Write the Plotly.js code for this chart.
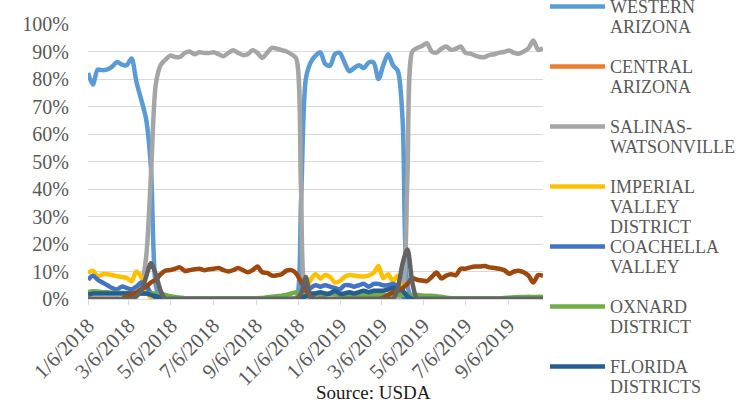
<!DOCTYPE html>
<html>
<head>
<meta charset="utf-8">
<script src="https://cdn.plot.ly/plotly-3.0.1.min.js"></script>
<style>html,body{margin:0;padding:0;background:#fff;}#chart{width:754px;height:402px;}</style>
</head>
<body>
<div id="chart"></div>
<script>
// Weekly shipping dates (categories)
const weeks = [
 '2018-01-06','2018-01-13','2018-01-20','2018-01-27','2018-02-03','2018-02-10','2018-02-17','2018-02-24',
 '2018-03-03','2018-03-10','2018-03-17','2018-03-24','2018-03-31','2018-04-07','2018-04-14','2018-04-21','2018-04-28',
 '2018-05-05','2018-05-12','2018-05-19','2018-05-26','2018-06-02','2018-06-09','2018-06-16','2018-06-23','2018-06-30',
 '2018-07-07','2018-07-14','2018-07-21','2018-07-28','2018-08-04','2018-08-11','2018-08-18','2018-08-25',
 '2018-09-01','2018-09-08','2018-09-15','2018-09-22','2018-09-29','2018-10-06','2018-10-13','2018-10-20','2018-10-27',
 '2018-11-03','2018-11-10','2018-11-17','2018-11-24','2018-12-01','2018-12-08','2018-12-15','2018-12-22','2018-12-29',
 '2019-01-05','2019-01-12','2019-01-19','2019-01-26','2019-02-02','2019-02-09','2019-02-16','2019-02-23',
 '2019-03-02','2019-03-09','2019-03-16','2019-03-23','2019-03-30','2019-04-06','2019-04-13','2019-04-20','2019-04-27',
 '2019-05-04','2019-05-11','2019-05-18','2019-05-25','2019-06-01','2019-06-08','2019-06-15','2019-06-22','2019-06-29',
 '2019-07-06','2019-07-13','2019-07-20','2019-07-27','2019-08-03','2019-08-10','2019-08-17','2019-08-24','2019-08-31',
 '2019-09-07','2019-09-14','2019-09-21','2019-09-28','2019-10-05','2019-10-12','2019-10-19','2019-10-26'
];

// Shares (%) by region
const westernArizona = [82.2,78,83.4,83.2,83.5,84.5,86.2,85.2,85,87.5,79,72.5,65.5,48,5,
 0,0,0,0,0,0,0,0,0,0,0,0,0,0,0,0,0,0,0,0,0,0,0,0,0,0,0,0,0,
 35,80,86,88.5,89.7,85.5,84.8,89,89.5,86,82.8,84,85,84,86,86,80,85,89,85,83,65,5,
 0,0,0,0,0,0,0,0,0,0,0,0,0,0,0,0,0,0,0,0,0,0,0,0,0,0,0,0];
const centralArizona = [0,0,0,0,0,0,0,0,0,0.5,1.5,2.5,2.5,1.5,0.5,
 0,0,0,0,0,0,0,0,0,0,0,0,0,0,0,0,0,0,0,0,0,0,0,0,0,0,0,0,
 0.5,1,0.5,
 0,0,0,0,0,0,0,0,0,0,0,0,0,0,0,0,
 0.5,1,1.5,1,0.5,
 0,0,0,0,0,0,0,0,0,0,0,0,0,0,0,0,0,0,0,0,0,0,0,0,0,0,0,0];
const salinasWatsonville = [0,0,0,0,0,0,0,0,0,0,1,5,15,45,78,85,87,88.5,88,88,89.5,90,89,89.7,89.5,89.5,
 89.7,89,88.3,89.5,90.5,89.5,88.7,89,90.5,89.5,87.7,89.5,91.3,91,90.5,90,89,87.5,40,1,
 0,0,0,0,0,0,0,0,0,0,0,0,0,0,0,0,0,0,0,
 3,45,90,91.3,92,93,90,89.6,91,91.8,90.6,91,91.8,89.5,89.2,88.5,88,88,88.8,89,89.6,89.8,90.4,89.5,89.2,90,91.2,94,90.6,91.2];
const imperialValley = [9.5,10.3,8.2,9,9,8.7,8.3,8,7.7,6.5,10,8,3,0.5,
 0,0,0,0,0,0,0,0,0,0,0,0,0,0,0,0,0,0,0,0,0,0,0,0,0,0,0,0,0,0,0,
 3,7,9,7.5,8.7,8,6,6.5,8,8.7,8.5,8.3,8.2,8.5,9.5,12,7.6,9,6.5,8.5,2,
 0,0,0,0,0,0,0,0,0,0,0,0,0,0,0,0,0,0,0,0,0,0,0,0,0,0,0,0,0];
const coachellaValley = [7,8.5,7,6,5,4,3.5,4.5,4,3.5,4.5,6,5,2,0.5,
 0,0,0,0,0,0,0,0,0,0,0,0,0,0,0,0,0,0,0,0,0,0,0,0,0,0,0,0,0,0,
 2,4,5,4.5,5,4.5,4,3.5,5,5,4.5,5,5.5,4.5,5.5,5.5,5,5,5.5,4.5,1,
 0,0,0,0,0,0,0,0,0,0,0,0,0,0,0,0,0,0,0,0,0,0,0,0,0,0,0,0,0];
const oxnard = [2.5,2.8,2.7,2.5,2.5,2.3,2.3,2.2,2.2,2,2,2,2,2,2,1.8,1.5,1,0.7,0.5,0.3,
 0.2,0.2,0.2,0.2,0.2,0.2,0.2,0.2,0.2,0.2,0.2,0.2,0.2,0.2,0.2,
 0.4,0.6,0.8,1,1.2,1.5,2,2.5,2,1.5,1.5,1.8,1.5,1.5,2,1.8,1.5,1.5,1.3,1.5,1.5,1.5,1.3,1.5,1.5,1.5,1.3,1.5,1.5,
 1.5,1.5,1.5,1.5,1.3,1.2,1.2,1,0.8,0.5,0.3,
 0.2,0.2,0.2,0.2,0.2,0.2,0.2,0.2,0.2,0.2,
 0.4,0.5,0.6,0.7,0.7,0.8,0.7,0.8,0.7];
const florida = [1.5,2,2,2,2,2,2,2,2,2,2,2,2,1.5,1,0.5,
 0,0,0,0,0,0,0,0,0,0,0,0,0,0,0,0,0,0,0,0,0,0,0,0,0,0,0,0,
 0.5,1,2,2,2.5,2,2,3,2,2,2.5,2,2.5,3,2.5,3,3,3,3.5,4,4,3,1,
 0,0,0,0,0,0,0,0,0,0,0,0,0,0,0,0,0,0,0,0,0,0,0,0,0,0,0,0];
const santaMaria = [0,0,0,0,0,0,0,0,1,1.5,2.5,3.5,4.5,6,7,9,10.3,10.5,11,11.5,10.2,10.5,10.8,11,10.5,10.8,
 11,11.3,10.5,10,10.5,11.3,10.5,9.7,10.5,11.8,9.7,9.5,8.5,8.6,9,10.3,10.5,9.3,6.3,3.3,1,
 0,0,0,0,0,0,0,0,0,0,0,0,0,0,
 0.5,1.5,2.5,3,4,5.5,7.5,7,6.7,6.5,8,9.6,7.5,8.5,9,8.7,11,11,11.5,11.8,11.8,12,11.5,11.3,11,10.5,9.2,10,10.3,9.7,8.5,6,8.7,8.4];
const huron = [0,0,0,0,0,0,0,0,0,0,1,3,8,13,9,3,
 0,0,0,0,0,0,0,0,0,0,0,0,0,0,0,0,0,0,0,0,0,0,0,0,0,0,0,0,
 2,8,0.5,
 0,0,0,0,0,0,0,0,0,0,0,0,0,0,0,0,0,
 4,13,18,6,
 0,0,0,0,0,0,0,0,0,0,0,0,0,0,0,0,0,0,0,0,0,0,0,0,0,0,0];

const seriesNames = [['WESTERN','ARIZONA'],['CENTRAL','ARIZONA'],['SALINAS-','WATSONVILLE'],['IMPERIAL','VALLEY','DISTRICT'],['COACHELLA','VALLEY'],['OXNARD','DISTRICT'],['FLORIDA','DISTRICTS'],['SANTA MARIA'],['HURON']];
const seriesData = [westernArizona, centralArizona, salinasWatsonville, imperialValley, coachellaValley, oxnard, florida, santaMaria, huron];
const seriesColors = ['#5B9BD5','#ED7D31','#A5A5A5','#FFC000','#4472C4','#70AD47','#255E91','#9E480E','#636363'];

const tickVals = ['2018-01-06','2018-03-06','2018-05-06','2018-07-06','2018-09-06','2018-11-06','2019-01-06','2019-03-06','2019-05-06','2019-07-06','2019-09-06'];
const tickText = ['1/6/2018','3/6/2018','5/6/2018','7/6/2018','9/6/2018','11/6/2018','1/6/2019','3/6/2019','5/6/2019','7/6/2019','9/6/2019'];

const FONT = 'Liberation Serif, Times New Roman, serif';
const PL = 88, PR = 543, PT = 24, PB = 299;
const pw = PR - PL, ph = PB - PT;
const legendTops = [-10, 50, 110, 170, 230, 290, 350];

const traces = seriesData.map((vals, i) => ({
  x: weeks, y: vals, type: 'scatter', mode: 'lines',
  name: seriesNames[i].map(s => '<span style="font-size:18px">' + s + '</span>').join('<br>'),
  line: {color: seriesColors[i], width: 4.5, shape: 'spline', smoothing: 0.8},
  showlegend: i < 7,
  legend: i === 0 ? 'legend' : (i < 7 ? 'legend' + (i + 1) : undefined),
  hoverinfo: 'skip'
}));

const layout = {
  width: 754, height: 402,
  paper_bgcolor: '#fff', plot_bgcolor: '#fff',
  margin: {l: PL, r: 754 - PR, t: PT, b: 402 - PB, autoexpand: false},
  font: {family: FONT, color: '#595959', size: 20},
  xaxis: {
    type: 'date', range: ['2018-01-06', '2019-10-26'],
    tickmode: 'array', tickvals: tickVals, ticktext: tickText, tickangle: -45,
    ticks: 'outside', ticklen: 5, tickcolor: '#D9D9D9', tickwidth: 1,
    showline: true, linecolor: '#D9D9D9', linewidth: 1,
    showgrid: false, zeroline: false, ticklabelstandoff: 0,
    tickfont: {family: FONT, size: 21, color: '#595959'}
  },
  yaxis: {
    range: [0, 100], dtick: 10, ticksuffix: '%',
    showgrid: true, gridcolor: '#D9D9D9', gridwidth: 1,
    zeroline: false, showline: false, ticks: '', ticklabelstandoff: 18,
    tickfont: {family: FONT, size: 20, color: '#595959'}
  },
  annotations: [{
    text: 'Source: USDA', xref: 'paper', yref: 'paper',
    x: (373 - PL) / pw, y: (PB - 392) / ph, xanchor: 'center', yanchor: 'middle',
    showarrow: false, font: {family: FONT, size: 19, color: '#1a1a1a'}
  }]
};

for (let i = 0; i < 7; i++) {
  const key = i === 0 ? 'legend' : 'legend' + (i + 1);
  layout[key] = {
    x: (545 - PL) / pw, xanchor: 'left',
    y: (PB - legendTops[i]) / ph, yanchor: 'top',
    bgcolor: 'rgba(0,0,0,0)', borderwidth: 0,
    itemwidth: 55, valign: 'top', tracegroupgap: 0,
    font: {family: FONT, size: 15.4, color: '#595959'}
  };
}

Plotly.newPlot('chart', traces, layout, {staticPlot: true, displayModeBar: false});
</script>
</body>
</html>
